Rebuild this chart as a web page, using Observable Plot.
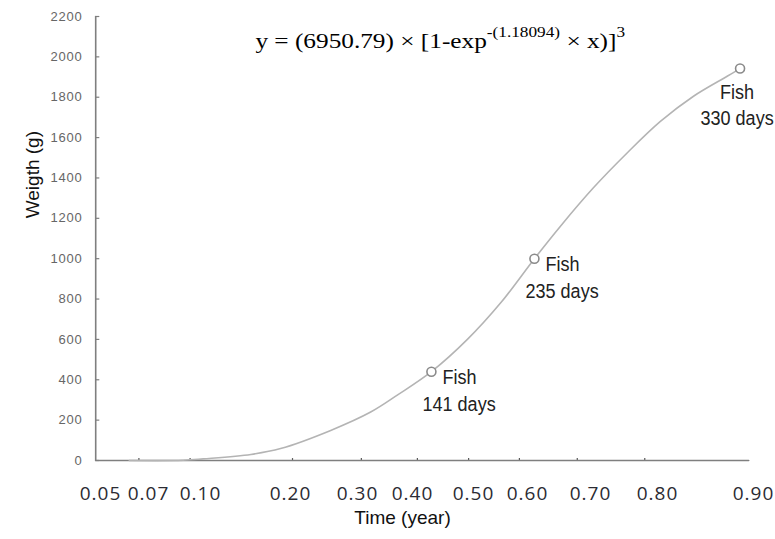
<!DOCTYPE html>
<html>
<head>
<meta charset="utf-8">
<script src="https://cdn.jsdelivr.net/npm/d3@7"></script>
<script src="https://cdn.jsdelivr.net/npm/@observablehq/plot@0.6"></script>
<style>
  body { margin: 0; background: #fff; }
  g[aria-label="x-axis tick label"] text { letter-spacing: 1px; }
  g[aria-label="y-axis tick label"] text { letter-spacing: 0.8px; }
</style>
</head>
<body>
<div id="chart"></div>
<script>
// ---- data ----
const xTickValues = [0.05, 0.07, 0.10, 0.20, 0.30, 0.40, 0.50, 0.60, 0.70, 0.80, 0.90];
const xTickLabels = ["0.05", "0.07", "0.10", "0.20", "0.30", "0.40", "0.50", "0.60", "0.70", "0.80", "0.90"];
const xTickMarks = [0.066, 0.094, 0.203, 0.307, 0.408, 0.492, 0.585, 0.679, 0.781];
const yTickValues = [0, 200, 400, 600, 800, 1000, 1200, 1400, 1600, 1800, 2000, 2200];

const curveTime   = [0.062, 0.090, 0.103, 0.156, 0.189, 0.260, 0.324, 0.373, 0.431, 0.490, 0.550, 0.611, 0.652, 0.704, 0.755, 0.803, 0.8375, 0.873, 0.886];
const curveWeight = [0,     1,     8,     30,    59,    149,   240,   325,   440,   600,   780,   1000,  1160,  1350,  1525,  1680,  1805,   1905,  1942];

const fishTime   = [0.431, 0.611, 0.886];
const fishWeight = [440, 1000, 1942];
const fishLine1  = ["Fish", "Fish", "Fish"];
const fishLine2  = ["141 days", "235 days", "330 days"];

const equation = "y = (6950.79) × [1-exp^{-(1.18094)} × x)]^{3}";

// ---- layout (pixel positions of the printed x labels; the axis is not linear) ----
const xLabelPx = [100, 148, 200, 290, 357, 412, 473, 527, 590, 657, 753];
const axisStart = 0.048, axisEnd = 0.895;

const curve = curveTime.map((t, i) => ({t, w: curveWeight[i]}));
const fish = fishTime.map((t, i) => ({t, w: fishWeight[i], l1: fishLine1[i], l2: fishLine2[i], i}));
const fishLeft = fish.filter(d => d.i < 2);
const fishLast = fish.filter(d => d.i === 2);

const axisColor = "#7f7f7f";
const yAxisLine = [{t: axisStart, w: 0}, {t: axisStart, w: 2200}];
const xAxisLine = [{t: axisStart, w: 0}, {t: axisEnd, w: 0}];
const fishFont = 21;

const chart = Plot.plot({
  width: 775,
  height: 539,
  marginTop: 16,
  marginBottom: 79,
  marginLeft: 95,
  marginRight: 66,
  style: {fontFamily: "Liberation Sans, Arial, sans-serif", background: "#fff"},
  x: {type: "linear", domain: xTickValues, range: xLabelPx},
  y: {domain: [0, 2200]},
  marks: [
    // y axis labels + small inward ticks
    Plot.axisY({ticks: yTickValues, tickFormat: d => String(d), tickSize: 0, tickPadding: 13,
                fontSize: 13, fill: "#666", label: null}),
    Plot.link(yTickValues, {x1: () => axisStart, x2: () => 0.0495, y1: d => d, y2: d => d,
                            stroke: axisColor, strokeWidth: 1.2}),
    // small x tick marks (upward)
    Plot.link(xTickMarks, {x1: d => d, x2: d => d, y1: () => 0, y2: () => 12, stroke: "#555", strokeWidth: 1.2}),
    // axis lines
    Plot.line(yAxisLine, {x: "t", y: "w", stroke: axisColor, strokeWidth: 1.6}),
    Plot.line(xAxisLine, {x: "t", y: "w", stroke: axisColor, strokeWidth: 1.6}),
    // x axis labels
    Plot.axisX({ticks: xTickValues, tickFormat: (d, i) => xTickLabels[i], tickSize: 0, tickPadding: 26,
                fontSize: 19, fontFamily: "Open Sans, sans-serif", fill: "#2b2b33", label: null}),
    // axis titles
    Plot.text(["Time (year)"], {frameAnchor: "bottom", dy: 63, fontSize: 19, fill: "#111"}),
    Plot.text(["Weigth (g)"], {frameAnchor: "left", y: [1200], dx: -63, rotate: -90, fontSize: 19, fill: "#111"}),
    // fitted curve
    Plot.line(curve, {x: "t", y: "w", curve: "catmull-rom", stroke: "#b4b4b4", strokeWidth: 1.6}),
    // observed fish
    Plot.dot(fish, {x: "t", y: "w", r: 4.5, stroke: "#8a8a8a", strokeWidth: 1.6, fill: "#fff"}),
    Plot.text(fishLeft, {x: "t", y: "w", text: "l1", textAnchor: "start", dx: 11, dy: 6, fontSize: fishFont, fill: "#222"}),
    Plot.text(fishLeft, {x: "t", y: "w", text: "l2", textAnchor: "start", dx: -9, dy: 33, fontSize: fishFont, fill: "#222"}),
    Plot.text(fishLast, {x: "t", y: "w", text: "l1", dx: -3, dy: 24, fontSize: fishFont, fill: "#222"}),
    Plot.text(fishLast, {x: "t", y: "w", text: "l2", dx: -3, dy: 50, fontSize: fishFont, fill: "#222"}),
    // equation
    Plot.text([equation], {x: 0.161, y: 2078, textAnchor: "start", fontSize: 22,
                           fontFamily: "Liberation Serif, Times New Roman, serif", fill: "#000"})
  ]
});

document.getElementById("chart").appendChild(chart);

function squeeze(sel, sx) {
  sel.each(function() {
    const t = this.getAttribute("transform");
    if (t) this.setAttribute("transform", t + ` scale(${sx},1)`);
  });
}

// rebuild equation text with superscripts
const eqText = d3.select(chart).selectAll("text").filter(function() { return this.textContent === equation; });
const parts = equation.split(/(\^\{[^}]*\})/).filter(s => s.length);
eqText.text(null);
let sup = false;
parts.forEach(p => {
  if (p.startsWith("^{")) {
    eqText.append("tspan").attr("dy", -11).attr("font-size", 15).text(p.slice(2, -1));
    sup = true;
  } else {
    eqText.append("tspan").attr("dy", sup ? 11 : 0).text(p);
    sup = false;
  }
});
squeeze(eqText, 1.15);

// narrow sans for the fish annotations
const fishTexts = new Set([...fishLine1, ...fishLine2]);
squeeze(d3.select(chart).selectAll("text").filter(function() { return fishTexts.has(this.textContent); }), 0.86);
</script>
</body>
</html>
